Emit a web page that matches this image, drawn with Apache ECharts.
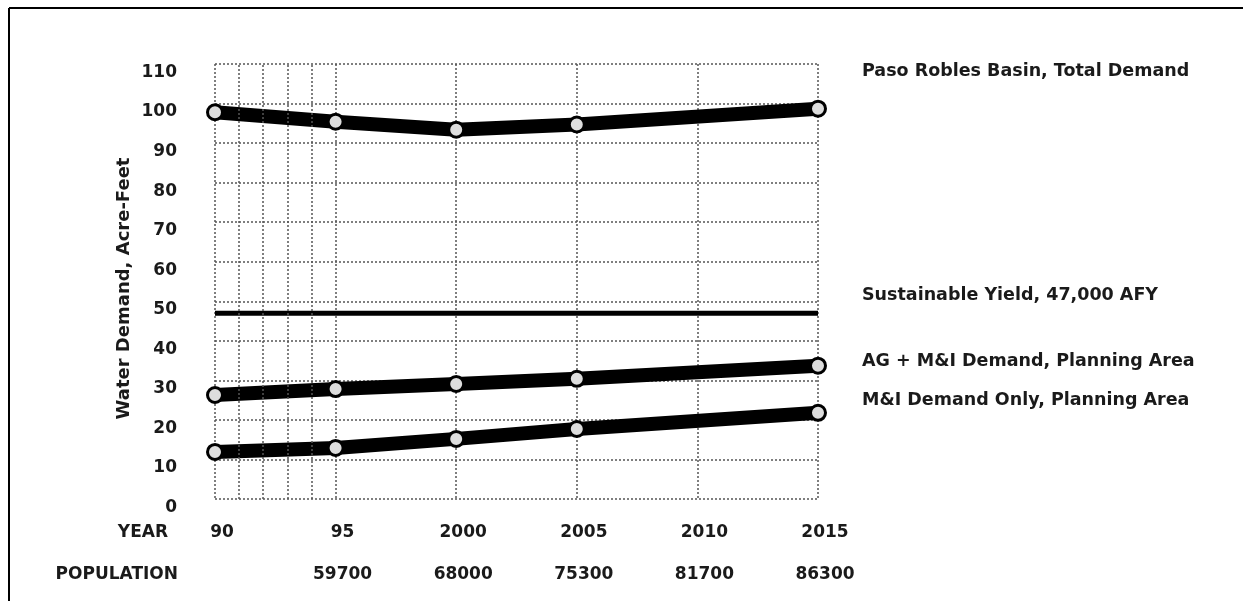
<!DOCTYPE html>
<html lang="en" style="height: 100%">
<head>
  <meta charset="utf-8">
  <title>Paso Robles Basin Water Demand</title>
  <style>
    body { margin: 0; background: #fff; }
    #container { width: 1243px; height: 601px; }
  </style>
</head>
<body style="height: 100%">
  <div id="container"></div>

  <script type="text/javascript" src="https://fastly.jsdelivr.net/npm/echarts@6/dist/echarts.min.js"></script>

  <script type="text/javascript">
    // Data (values in thousand acre-feet)
    var years = [1990, 1995, 2000, 2005, 2015];
    var totalDemand = [97.8, 95.4, 93.4, 94.7, 98.7];
    var agMiDemand = [26.3, 27.8, 29.1, 30.4, 33.7];
    var miDemand = [11.9, 12.9, 15.2, 17.7, 21.8];
    var yieldYears = [1990, 2015];
    var sustainableYield = [47, 47];

    // Extra yearly grid lines in the early 90s
    var minorYears = [1991, 1992, 1993, 1994];

    // Bottom tick labels
    var popYears = [1995, 2000, 2005, 2010, 2015];
    var population = ['59700', '68000', '75300', '81700', '86300'];

    var labels = [
      { text: 'Paso Robles Basin, Total Demand', y: 72 },
      { text: 'Sustainable Yield, 47,000 AFY', y: 296 },
      { text: 'AG + M&I Demand, Planning Area', y: 362 },
      { text: 'M&I Demand Only, Planning Area', y: 401 }
    ];

    function pairs(xs, ys) {
      return xs.map(function (x, i) { return [x, ys[i]]; });
    }

    var font = '"DejaVu Sans", "Liberation Sans", sans-serif';
    var ink = '#1a1a1a';
    var gridDots = { type: [2, 2], color: '#555', width: 1.5 };

    var dom = document.getElementById('container');
    var myChart = echarts.init(dom, null, { renderer: 'canvas' });

    var thickLine = function (name, data) {
      return {
        name: name,
        type: 'line',
        z: 3,
        data: data,
        symbol: 'circle',
        symbolSize: 15,
        lineStyle: { color: '#000', width: 14 },
        itemStyle: { color: '#ddd', borderColor: '#000', borderWidth: 3 },
        silent: true
      };
    };

    var option = {
      animation: false,
      backgroundColor: '#fff',
      grid: { left: 215, right: 425, top: 64, bottom: 102 },
      xAxis: [
        {
          type: 'value',
          min: 1990,
          max: 2015,
          interval: 5,
          axisLine: { show: false },
          axisTick: { show: false },
          splitLine: { show: true, lineStyle: gridDots },
          axisLabel: {
            margin: 25,
            padding: [0, 0, 0, 14],
            color: ink,
            fontFamily: font,
            fontWeight: 'bold',
            fontSize: 17,
            formatter: function (v) {
              return v < 2000 ? String(v).slice(2) : String(v);
            }
          }
        },
        {
          type: 'value',
          position: 'bottom',
          offset: 42,
          min: 1990,
          max: 2015,
          interval: 5,
          axisLine: { show: false },
          axisTick: { show: false },
          splitLine: { show: false },
          axisLabel: {
            margin: 25,
            padding: [0, 0, 0, 14],
            color: ink,
            fontFamily: font,
            fontWeight: 'bold',
            fontSize: 17,
            formatter: function (v) {
              var i = popYears.indexOf(v);
              return i < 0 ? '' : population[i];
            }
          }
        }
      ],
      yAxis: {
        type: 'value',
        min: 0,
        max: 110,
        interval: 10,
        name: 'Water Demand, Acre-Feet',
        nameLocation: 'middle',
        nameGap: 82,
        nameTextStyle: { color: ink, fontFamily: font, fontWeight: 'bold', fontSize: 18, padding: [0, 14, 0, 0] },
        axisLine: { show: false },
        axisTick: { show: false },
        splitLine: { show: true, lineStyle: gridDots },
        axisLabel: {
          margin: 38,
          verticalAlign: 'top',
          color: ink,
          fontFamily: font,
          fontWeight: 'bold',
          fontSize: 17
        }
      },
      series: [
        {
          name: 'Sustainable Yield',
          type: 'line',
          z: 2,
          data: pairs(yieldYears, sustainableYield),
          showSymbol: false,
          lineStyle: { color: '#000', width: 5 },
          silent: true,
          markLine: {
            silent: true,
            symbol: 'none',
            label: { show: false },
            lineStyle: gridDots,
            data: minorYears.map(function (y) { return { xAxis: y }; })
          }
        },
        thickLine('Total Demand', pairs(years, totalDemand)),
        thickLine('AG + M&I Demand', pairs(years, agMiDemand)),
        thickLine('M&I Demand Only', pairs(years, miDemand))
      ],
      graphic: [
        { type: 'line', shape: { x1: 9, y1: 8, x2: 1243, y2: 8 }, style: { stroke: '#000', lineWidth: 2 } },
        { type: 'line', shape: { x1: 9, y1: 8, x2: 9, y2: 601 }, style: { stroke: '#000', lineWidth: 2 } },
        {
          type: 'text', right: 1243 - 168, top: 524,
          style: { text: 'YEAR', fill: ink, font: 'bold 17px ' + font }
        },
        {
          type: 'text', right: 1243 - 178, top: 566,
          style: { text: 'POPULATION', fill: ink, font: 'bold 17px ' + font }
        }
      ].concat(labels.map(function (l) {
        return {
          type: 'text', left: 862, top: l.y - 10,
          style: { text: l.text, fill: ink, font: 'bold 17.5px ' + font }
        };
      }))
    };

    myChart.setOption(option);
    window.addEventListener('resize', myChart.resize);
  </script>
</body>
</html>
